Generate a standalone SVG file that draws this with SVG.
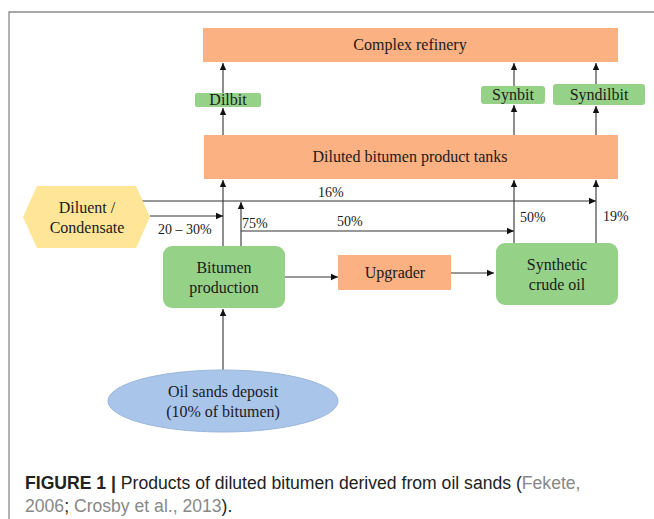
<svg xmlns="http://www.w3.org/2000/svg" width="654" height="519" viewBox="0 0 654 519">
<style>
.t{font-family:"Liberation Serif","Times New Roman",serif;font-size:16px;fill:#1a1a1a;text-anchor:middle}
.l{font-family:"Liberation Serif","Times New Roman",serif;font-size:14px;fill:#1a1a1a}
.or{fill:#FCB183}
.gr{fill:#95D288}
.ln{stroke:#333;stroke-width:1.1;fill:none}
.cap{font-family:"Liberation Sans",Arial,sans-serif;font-size:17.6px;fill:#222}
.g{fill:#888}
</style>
<defs>
<marker id="ah" markerWidth="8" markerHeight="8" refX="7" refY="4" orient="auto" markerUnits="userSpaceOnUse">
<path d="M0,0.8 L7,4 L0,7.2 Z" fill="#111"/>
</marker>
</defs>
<rect width="654" height="519" fill="#fff"/>
<path d="M9,519 V12 H654" stroke="#8a8a8a" stroke-width="1.3" fill="none"/>

<g id="connectors">
<line class="ln" x1="223" y1="93" x2="223" y2="63" marker-end="url(#ah)"/>
<line class="ln" x1="514" y1="86" x2="514" y2="63" marker-end="url(#ah)"/>
<line class="ln" x1="596" y1="84" x2="596" y2="63" marker-end="url(#ah)"/>
<line class="ln" x1="223" y1="135" x2="223" y2="108" marker-end="url(#ah)"/>
<line class="ln" x1="514" y1="135" x2="514" y2="105" marker-end="url(#ah)"/>
<line class="ln" x1="596" y1="135" x2="596" y2="106" marker-end="url(#ah)"/>
<line class="ln" x1="223" y1="246" x2="223" y2="180" marker-end="url(#ah)"/>
<line class="ln" x1="241" y1="246" x2="241" y2="202" marker-end="url(#ah)"/>
<line class="ln" x1="140" y1="201" x2="596" y2="201" marker-end="url(#ah)"/>
<line class="ln" x1="150" y1="216" x2="223" y2="216" marker-end="url(#ah)"/>
<line class="ln" x1="241" y1="231" x2="514" y2="231" marker-end="url(#ah)"/>
<line class="ln" x1="514" y1="243" x2="514" y2="180" marker-end="url(#ah)"/>
<line class="ln" x1="596" y1="243" x2="596" y2="180" marker-end="url(#ah)"/>
<line class="ln" x1="285" y1="277" x2="338" y2="277" marker-end="url(#ah)"/>
<line class="ln" x1="451" y1="273" x2="494" y2="273" marker-end="url(#ah)"/>
<line class="ln" x1="223" y1="370" x2="223" y2="309" marker-end="url(#ah)"/>
<text class="l" x="318" y="197">16%</text>
<text class="l" x="158" y="234">20 – 30%</text>
<text class="l" x="242" y="228">75%</text>
<text class="l" x="337" y="226">50%</text>
<text class="l" x="520" y="222">50%</text>
<text class="l" x="603" y="221">19%</text>
</g>

<g id="refinery"><rect class="or" x="203" y="28" width="415" height="34"/><text class="t" x="410" y="50">Complex refinery</text></g>
<g id="dilbit"><rect class="gr" x="195" y="93" width="66" height="14" rx="2"/><text class="t" x="228" y="105">Dilbit</text></g>
<g id="synbit"><rect class="gr" x="481" y="86" width="64" height="18" rx="3"/><text class="t" x="513" y="100">Synbit</text></g>
<g id="syndilbit"><rect class="gr" x="553" y="84" width="92" height="21" rx="3"/><text class="t" x="599" y="100">Syndilbit</text></g>
<g id="tanks"><rect class="or" x="204" y="135" width="414" height="44"/><text class="t" x="410" y="162">Diluted bitumen product tanks</text></g>
<g id="diluent"><polygon points="23,217 37,186 136,186 150,217 136,248 37,248" fill="#FFE597"/><text class="t" x="87" y="213">Diluent /</text><text class="t" x="87" y="233">Condensate</text></g>
<g id="bitumen"><rect class="gr" x="163" y="246" width="122" height="62" rx="9"/><text class="t" x="224" y="273">Bitumen</text><text class="t" x="224" y="293">production</text></g>
<g id="upgrader"><rect class="or" x="338" y="255" width="113" height="35"/><text class="t" x="395" y="278">Upgrader</text></g>
<g id="sco"><rect class="gr" x="496" y="243" width="122" height="62" rx="9"/><text class="t" x="557" y="270">Synthetic</text><text class="t" x="557" y="290">crude oil</text></g>
<g id="deposit"><ellipse cx="223" cy="401" rx="115" ry="31" fill="#A9C5E9" stroke="#9bb6da" stroke-width="1"/><text class="t" x="223" y="397">Oil sands deposit</text><text class="t" x="223" y="417">(10% of bitumen)</text></g>

<text class="cap" x="25" y="489"><tspan font-weight="bold">FIGURE 1 | </tspan>Products of diluted bitumen derived from oil sands (<tspan class="g">Fekete,</tspan></text>
<text class="cap" x="25" y="512"><tspan class="g">2006</tspan>; <tspan class="g">Crosby et al., 2013</tspan>).</text>
</svg>
